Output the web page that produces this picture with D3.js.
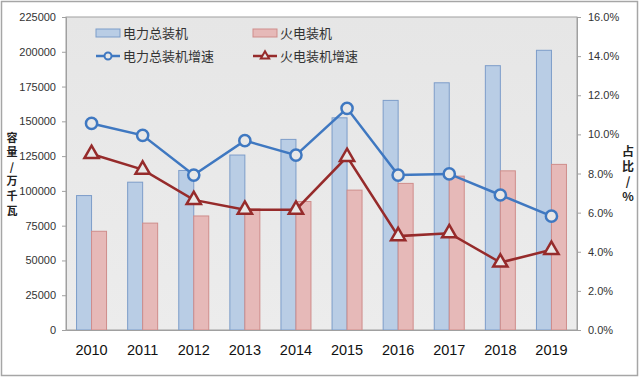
<!DOCTYPE html>
<html><head><meta charset="utf-8">
<script src="https://cdn.jsdelivr.net/npm/d3@7"></script>
<style>
html,body{margin:0;padding:0;background:#fff;}
svg{display:block;}
</style></head>
<body>
<svg id="chart" width="640" height="379"></svg>
<script>
const years = ["2010","2011","2012","2013","2014","2015","2016","2017","2018","2019"];
const totalCapacity = [96641,106253,114676,125768,137018,152527,165051,177708,190012,201066];
const thermalCapacity = [70967,76834,81968,87009,92363,100554,105388,110604,114408,119055];
const totalGrowth = [10.56,9.95,7.92,9.68,8.94,11.33,7.92,7.98,6.90,5.82];
const thermalGrowth = [9.0,8.2,6.65,6.15,6.15,8.85,4.8,4.95,3.45,4.1];
const leftTicks = [0,25000,50000,75000,100000,125000,150000,175000,200000,225000];
const rightTicks = [0,2,4,6,8,10,12,14,16];
const legendNames = ["电力总装机","火电装机","电力总装机增速","火电装机增速"];
const leftTitle = "容量/万千瓦";
const rightTitle = "占比/%";

const svg = d3.select("#chart");
const m = {l:66, r:577, t:17, b:330};
const cjk = "'Noto Sans CJK SC','Noto Sans',sans-serif";
const num = "'Liberation Sans',Arial,sans-serif";

// outer frame
svg.append("rect").attr("x",1.5).attr("y",1.5).attr("width",636).attr("height",374)
  .attr("fill","#fff").attr("stroke","#a6a6a6").attr("stroke-width",1.5);

// plot bg
const grad = svg.append("defs").append("linearGradient").attr("id","bg").attr("x1",0).attr("y1",0).attr("x2",0).attr("y2",1);
grad.append("stop").attr("offset","0").attr("stop-color","#e6e6e6");
grad.append("stop").attr("offset","1").attr("stop-color","#ececec");
svg.append("rect").attr("x",m.l).attr("y",m.t).attr("width",m.r-m.l).attr("height",m.b-m.t)
  .attr("fill","url(#bg)").attr("stroke","#a0a0a0").attr("stroke-width",1);

const x = d3.scaleBand().domain(years).range([m.l,m.r]).padding(0);
const yL = d3.scaleLinear().domain([0,225000]).range([m.b,m.t]);
const yR = d3.scaleLinear().domain([0,16]).range([m.b,m.t]);
const bw = 15;

// bars
const g = svg.append("g");
g.selectAll(".b1").data(years).enter().append("rect")
  .attr("x",d=>x(d)+x.bandwidth()/2-bw).attr("width",bw)
  .attr("y",(d,i)=>yL(totalCapacity[i])).attr("height",(d,i)=>yL(0)-yL(totalCapacity[i]))
  .attr("fill","#b9cde5").attr("stroke","#7d9dc9").attr("stroke-width",1);
g.selectAll(".b2").data(years).enter().append("rect")
  .attr("x",d=>x(d)+x.bandwidth()/2).attr("width",bw)
  .attr("y",(d,i)=>yL(thermalCapacity[i])).attr("height",(d,i)=>yL(0)-yL(thermalCapacity[i]))
  .attr("fill","#e6b9b8").attr("stroke","#cf8d8b").attr("stroke-width",1);

// axes
const axL = d3.axisLeft(yL).tickValues(leftTicks).tickSize(4).tickFormat(d3.format("d"));
const gL = svg.append("g").attr("transform",`translate(${m.l},0)`).call(axL);
gL.select(".domain").attr("stroke","#a0a0a0");
gL.selectAll(".tick line").attr("stroke","#a0a0a0");
gL.selectAll("text").attr("font-family",num).attr("font-size",11).attr("fill","#333").attr("x",-10);

const axR = d3.axisRight(yR).tickValues(rightTicks).tickSize(4).tickFormat(d=>d.toFixed(1)+"%");
const gR = svg.append("g").attr("transform",`translate(${m.r},0)`).call(axR);
gR.select(".domain").attr("stroke","#a0a0a0");
gR.selectAll(".tick line").attr("stroke","#a0a0a0");
gR.selectAll("text").attr("font-family",num).attr("font-size",11).attr("fill","#333").attr("x",11);

const axB = d3.axisBottom(x).tickSize(0);
const gB = svg.append("g").attr("transform",`translate(0,${m.b})`).call(axB);
gB.select(".domain").attr("stroke","#a0a0a0");
gB.selectAll("text").attr("font-family",num).attr("font-size",14.5).attr("fill","#111").attr("dy","1.55em");

// lines
const cx = d=>x(d)+x.bandwidth()/2;
const blue = "#3f78c1", red = "#962b2b";
const lineB = d3.line().x((d,i)=>cx(years[i])).y(d=>yR(d));
svg.append("path").attr("d",lineB(totalGrowth)).attr("fill","none").attr("stroke",blue).attr("stroke-width",2.5);
svg.append("path").attr("d",lineB(thermalGrowth)).attr("fill","none").attr("stroke",red).attr("stroke-width",2.5);

svg.selectAll(".c").data(totalGrowth).enter().append("circle")
  .attr("cx",(d,i)=>cx(years[i])).attr("cy",d=>yR(d)).attr("r",5.6)
  .attr("fill","#e8e8e8").attr("stroke",blue).attr("stroke-width",2.5);
const tri = d3.symbol().type(d3.symbolTriangle).size(88);
svg.selectAll(".t").data(thermalGrowth).enter().append("path")
  .attr("d",tri).attr("transform",(d,i)=>`translate(${cx(years[i])},${yR(d)})`)
  .attr("fill","#e8e8e8").attr("stroke",red).attr("stroke-width",2.5).attr("stroke-linejoin","miter");

// legend
const lg = svg.append("g");
const lx = [96,253], ly = [33,56];
lg.append("rect").attr("x",lx[0]).attr("y",ly[0]-4).attr("width",24).attr("height",8).attr("fill","#b9cde5").attr("stroke","#7d9dc9");
lg.append("rect").attr("x",lx[1]).attr("y",ly[0]-4).attr("width",24).attr("height",8).attr("fill","#e6b9b8").attr("stroke","#cf8d8b");
lg.append("line").attr("x1",lx[0]).attr("x2",lx[0]+24).attr("y1",ly[1]).attr("y2",ly[1]).attr("stroke",blue).attr("stroke-width",2.5);
lg.append("circle").attr("cx",lx[0]+12).attr("cy",ly[1]).attr("r",3.5).attr("fill","#e8e8e8").attr("stroke",blue).attr("stroke-width",2);
lg.append("line").attr("x1",lx[1]).attr("x2",lx[1]+24).attr("y1",ly[1]).attr("y2",ly[1]).attr("stroke",red).attr("stroke-width",2.5);
lg.append("path").attr("d",d3.symbol().type(d3.symbolTriangle).size(30)).attr("transform",`translate(${lx[1]+12},${ly[1]})`)
  .attr("fill","#e8e8e8").attr("stroke",red).attr("stroke-width",2);
[[0,0],[1,0],[0,1],[1,1]].forEach(([c,r],k)=>{
  lg.append("text").attr("x",lx[c]+27).attr("y",ly[r]).attr("dy","0.35em")
    .attr("font-family",cjk).attr("font-size",13).attr("fill","#333").text(legendNames[k]);
});

// axis titles (vertical, one text each)
svg.append("text").attr("x",12).attr("y",132)
  .style("writing-mode","vertical-rl").style("text-orientation","upright")
  .attr("letter-spacing","3.6px")
  .attr("font-family",cjk).attr("font-size",11).attr("font-weight","bold").attr("fill","#222").text(leftTitle);
svg.append("text").attr("x",628).attr("y",145)
  .style("writing-mode","vertical-rl").style("text-orientation","upright")
  .attr("letter-spacing","3px")
  .attr("font-family",cjk).attr("font-size",12).attr("font-weight","bold").attr("fill","#222").text(rightTitle);
</script>
</body></html>
